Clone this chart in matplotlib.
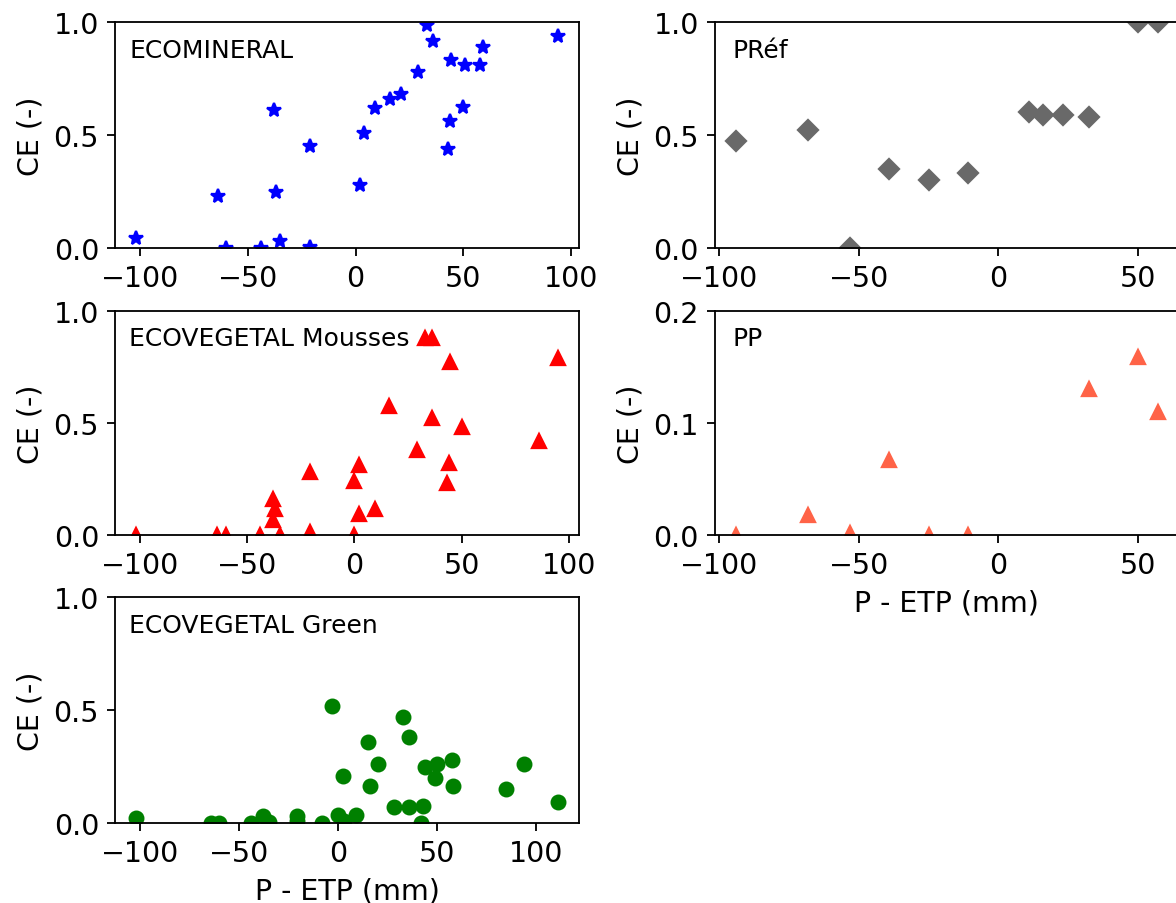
import numpy as np
import matplotlib
matplotlib.use("Agg")
import matplotlib.pyplot as plt

# ---- data (P - ETP in mm, CE dimensionless) ----
# ECOMINERAL
x_min = [-102, -64, -60, -44, -38, -37, -35, -21, -21, 2, 4, 9, 16, 21, 29,
         33, 36, 43, 44, 44.5, 50, 51, 58, 59, 94]
ce_min = [0.045, 0.23, 0.0, 0.0, 0.61, 0.25, 0.03, 0.45, 0.005, 0.28, 0.51,
          0.62, 0.66, 0.68, 0.78, 0.985, 0.915, 0.44, 0.56, 0.83, 0.625,
          0.81, 0.81, 0.89, 0.94]

# ECOVEGETAL Mousses
x_mou = [-102, -64, -60, -44, -35, -21, 0, -38, -37, -38, -21, 0, 2, 2, 9.5,
         16, 29, 33, 36, 36, 43, 44, 44.5, 50, 86, 95]
ce_mou = [0.0, 0.0, 0.0, 0.0, 0.0, 0.015, 0.0, 0.16, 0.115, 0.065, 0.28, 0.24,
          0.31, 0.095, 0.115, 0.575, 0.38, 0.88, 0.88, 0.52, 0.23, 0.32, 0.77,
          0.48, 0.42, 0.79]

# ECOVEGETAL Green
x_gre = [-102, -64, -60, -44, -38, -35, -21, -21, -8, -3, 0, 3, 2.5, 9, 15,
         16, 20, 28, 33, 36, 36, 43, 42, 44, 50, 49, 57.5, 58, 85, 94, 111]
ce_gre = [0.02, 0.0, 0.0, 0.0, 0.03, 0.005, 0.03, 0.01, 0.0, 0.52, 0.035, 0.01,
          0.21, 0.035, 0.36, 0.165, 0.26, 0.07, 0.47, 0.38, 0.07, 0.075, 0.0,
          0.25, 0.26, 0.2, 0.28, 0.165, 0.15, 0.26, 0.095]

# PRef
x_ref = [-94, -68, -53, -39, -25, -11, 11, 16, 23, 32.5, 50, 57]
ce_ref = [0.475, 0.52, 0.0, 0.35, 0.30, 0.33, 0.60, 0.59, 0.59, 0.58, 1.0, 1.0]

# PP
x_pp = [-94, -68, -53, -39, -25, -11, 32.5, 50, 57]
ce_pp = [0.0, 0.018, 0.002, 0.067, 0.0, 0.0, 0.13, 0.159, 0.11]

W, H, DPI = 1176, 904, 164
fig = plt.figure(figsize=(W / DPI, H / DPI), dpi=DPI)

# axes boxes in pixels (left, top, width, height) -> figure fractions
def box(l, t, w, h):
    return [l / W, 1 - (t + h) / H, w / W, h / H]

ax1 = fig.add_axes(box(115, 23, 464, 226))
ax2 = fig.add_axes(box(115, 311.7, 464, 224.3))
ax3 = fig.add_axes(box(115, 598.3, 464, 225.7))
ax4 = fig.add_axes(box(714.7, 23, 464, 226))
ax5 = fig.add_axes(box(714.7, 311.7, 464, 224.3))

ax1.plot(x_min, ce_min, '*', color='blue', ls='none', ms=6.5)
ax2.plot(x_mou, ce_mou, '^', color='red', ls='none')
ax3.plot(x_gre, ce_gre, 'o', color='green', ls='none')
ax4.plot(x_ref, ce_ref, 'D', color='dimgray', ls='none')
ax5.plot(x_pp, ce_pp, '^', color='tomato', ls='none')

panels = [(ax1, 'ECOMINERAL', 0.031, 1.0),
          (ax2, 'ECOVEGETAL Mousses', 0.031, 1.0),
          (ax3, 'ECOVEGETAL Green', 0.031, 1.0),
          (ax4, 'PRéf', 0.038, 1.0),
          (ax5, 'PP', 0.038, 0.2)]
for ax, name, tx, ymax in panels:
    ax.set_ylim(0, ymax)
    ax.set_yticks([0, ymax / 2, ymax])
    ax.tick_params(labelsize=12.5)
    ax.set_ylabel('CE (-)', fontsize=12.5)
    ax.text(tx, 0.845, name, transform=ax.transAxes, fontsize=11,
            ha='left', va='baseline')

ax3.set_xlabel('P - ETP (mm)', fontsize=12.5)
ax5.set_xlabel('P - ETP (mm)', fontsize=12.5)

fig.savefig('out.png', dpi=DPI)
